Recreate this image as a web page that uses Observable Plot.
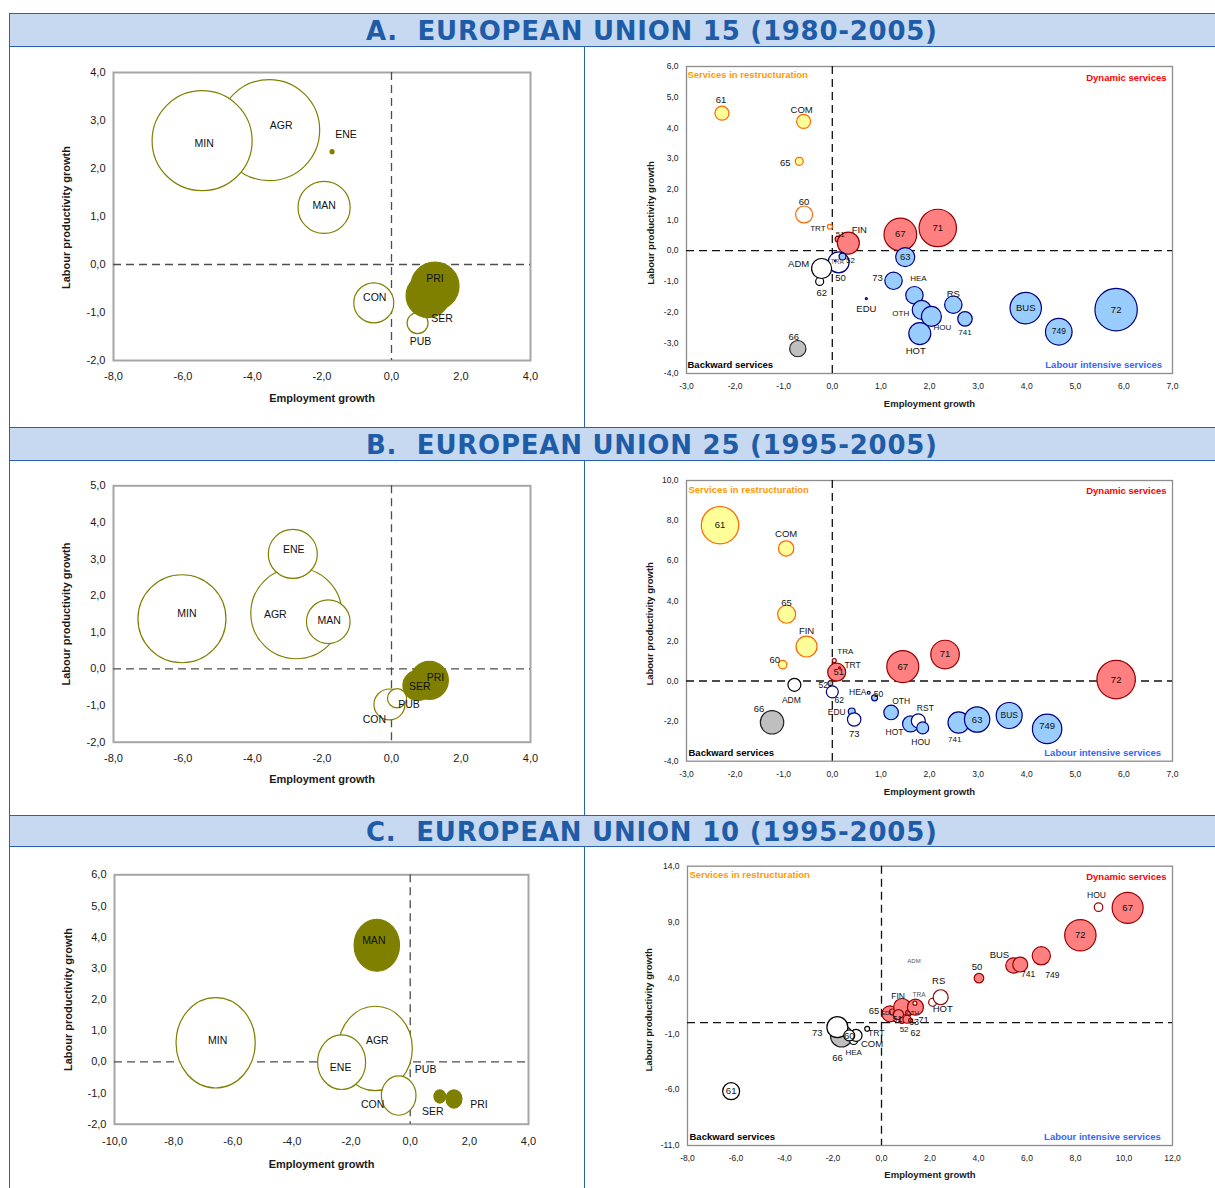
<!DOCTYPE html>
<html><head><meta charset="utf-8">
<script src="https://cdn.jsdelivr.net/npm/d3@7"></script>
<script src="https://cdn.jsdelivr.net/npm/@observablehq/plot@0.6"></script>
<style>
body{margin:0;background:#fff;}
#page{position:relative;width:1215px;height:1188px;overflow:hidden;background:#fff;font-family:"Liberation Sans",Arial,sans-serif;}
.banner{position:absolute;left:9px;width:1206px;background:#C6D9F1;border-top:1.5px solid #2A62AD;border-bottom:1.5px solid #2A62AD;box-sizing:border-box;z-index:2;}
.banner span{position:absolute;left:357px;top:1.5px;white-space:pre;font-family:"DejaVu Sans",sans-serif;font-weight:bold;font-size:26px;color:#1F5CA8;}
.vline{position:absolute;width:0;border-left:1.5px solid #2A62AD;z-index:3;}
.chart{position:absolute;z-index:1;}
.chart svg{overflow:visible;}
</style></head>
<body>
<div id="page">
  <div class="banner" style="top:13px;height:34px"><span style="line-height:31px">A.  EUROPEAN UNION 15 (1980-2005)</span></div>
  <div class="banner" style="top:427px;height:34px"><span style="line-height:31px">B.  EUROPEAN UNION 25 (1995-2005)</span></div>
  <div class="banner" style="top:815px;height:32px"><span style="line-height:29px">C.  EUROPEAN UNION 10 (1995-2005)</span></div>
  <div class="vline" style="left:8.5px;top:13px;height:1175px"></div>
  <div class="vline" style="left:584px;top:46px;height:381px"></div>
  <div class="vline" style="left:584px;top:461px;height:354px"></div>
  <div class="vline" style="left:584px;top:846px;height:342px"></div>
  <div class="chart" id="aLeft" style="left:0;top:46px"></div>
  <div class="chart" id="aRight" style="left:585px;top:46px"></div>
  <div class="chart" id="bLeft" style="left:0;top:461px"></div>
  <div class="chart" id="bRight" style="left:585px;top:461px"></div>
  <div class="chart" id="cLeft" style="left:0;top:846px"></div>
  <div class="chart" id="cRight" style="left:585px;top:846px"></div>
</div>
<script>
// ---------------- DATA ----------------
// A. EU15 (1980-2005) - broad sectors
const aLeftSector = ["AGR","MIN","ENE","MAN","CON","PUB","PRI","SER"];
const aLeftEmp    = [-3.52,-5.45,-1.71,-1.94,-0.51,0.75,1.25,1.05];
const aLeftProd   = [2.80,2.58,2.35,1.19,-0.80,-1.22,-0.45,-0.65];
const aLeftSize   = [255,250,0.4,68,40,11,58,48];
const aLeftKind   = ["open","open","full","open","open","open","full","full"];
const aLeftXTicks = [-8,-6,-4,-2,0,2,4];
const aLeftYTicks = [-2,-1,0,1,2,3,4];

// A. EU15 - services
const aRightSector = ["61","COM","65","60","TRT","51","FIN","71","67","63","50","TRA","52","62","ADM","73","HEA","OTH","HOU","HOT","RS","741","BUS","749","72","EDU","66"];
const aRightEmp    = [-2.27,-0.59,-0.68,-0.58,-0.05,0.12,0.33,2.17,1.40,1.50,0.13,0.06,0.21,-0.26,-0.22,1.26,1.69,1.84,2.04,1.80,2.49,2.73,3.98,4.66,5.84,0.70,-0.71];
const aRightProd   = [4.48,4.21,2.91,1.18,0.78,0.38,0.25,0.74,0.53,-0.21,-0.38,-0.33,-0.19,-1.00,-0.58,-0.98,-1.45,-1.93,-2.14,-2.70,-1.76,-2.22,-1.87,-2.64,-1.92,-1.56,-3.19];
const aRightSize   = [4.9,4.9,1.6,7.2,0.6,0.9,12.1,35,26.6,9,11,0.06,1.2,1.6,10,7.6,7.6,9,10,12.1,7.6,5.3,24.6,17.7,44.9,0.1,6.6];
const aRightKind   = ["res","res","res","resO","resO","dyn","dyn","dyn","dyn","lab","labO","labO","lab","back","back","lab","lab","lab","lab","lab","lab","lab","lab","lab","lab","lab","grey"];
const aRightXTicks = [-3,-2,-1,0,1,2,3,4,5,6,7];
const aRightYTicks = [-4,-3,-2,-1,0,1,2,3,4,5,6];

// B. EU25 (1995-2005) - broad sectors
const bLeftSector = ["MIN","AGR","ENE","MAN","CON","PUB","SER","PRI"];
const bLeftEmp    = [-6.03,-2.74,-2.84,-1.82,-0.06,0.16,0.76,1.09];
const bLeftProd   = [1.37,1.52,3.14,1.29,-0.97,-0.80,-0.45,-0.31];
const bLeftSize   = [193.6,207,60,47.5,24,9.2,22.5,36.1];
const bLeftKind   = ["open","open","open","open","open","open","full","full"];
const bLeftXTicks = [-8,-6,-4,-2,0,2,4];
const bLeftYTicks = [-2,-1,0,1,2,3,4,5];

// B. EU25 - services
const bRightSector = ["61","COM","65","FIN","60","51","TRA","TRT","67","71","72","ADM","52","62","HEA","50","EDU","73","OTH","HOT","RST","HOU","741","63","BUS","749","66"];
const bRightEmp    = [-2.31,-0.95,-0.94,-0.53,-1.02,0.09,0.04,0.15,1.45,2.32,5.84,-0.78,-0.04,0.00,0.75,0.87,0.40,0.45,1.21,1.61,1.77,1.86,2.60,2.98,3.64,4.42,-1.24];
const bRightProd   = [7.77,6.61,3.33,1.72,0.82,0.44,1.02,0.65,0.72,1.32,0.07,-0.19,-0.11,-0.54,-0.59,-0.84,-1.52,-1.92,-1.57,-2.14,-1.99,-2.34,-2.07,-1.92,-1.72,-2.39,-2.06];
const bRightSize   = [35,5.9,8.1,11,1.8,8.1,0.4,0.1,25.6,20.4,36.9,4.2,0.6,3.6,0.2,0.9,1.2,4.5,5.3,6.4,4.9,3.6,11.4,16.1,16.9,21.6,13.7];
const bRightKind   = ["res","res","res","res","res","dyn","dynO","dyn","dyn","dyn","dyn","back","grey","labO","labO","lab","lab","labO","lab","lab","labO","lab","lab","lab","lab","lab","grey"];
const bRightXTicks = [-3,-2,-1,0,1,2,3,4,5,6,7];
const bRightYTicks = [-4,-2,0,2,4,6,8,10];

// C. EU10 (1995-2005) - broad sectors
const cLeftSector = ["MIN","AGR","ENE","CON","MAN","SER","PRI","PUB"];
const cLeftEmp    = [-6.58,-1.18,-2.32,-0.39,-1.13,1.00,1.48,0.52];
const cLeftProd   = [0.61,0.43,-0.01,-1.08,3.74,-1.11,-1.19,-0.26];
const cLeftSize   = [156.8,136.9,57.6,29.9,51.5,3.4,6.4,0];
const cLeftKind   = ["open","open","open","open","full","full","full","open"];
const cLeftXTicks = [-10,-8,-6,-4,-2,0,2,4];
const cLeftYTicks = [-2,-1,0,1,2,3,4,5,6];

// C. EU10 - services
const cRightSector = ["61","66","73","HEA","COM","60","TRT","65","EDU","FIN","51","52","OTH","63","62","71","TRA","HOT","RS","ADM","50","BUS","741","749","72","HOU","67"];
const cRightEmp    = [-6.2,-1.65,-1.82,-1.15,-1.05,-1.33,-0.59,0.35,0.45,0.85,0.70,0.85,1.12,1.05,1.20,1.40,1.38,2.11,2.44,1.34,4.02,5.44,5.72,6.59,8.20,8.95,10.15];
const cRightProd   = [-6.14,-1.2,-0.41,-1.6,-1.15,-1.15,-0.56,0.79,0.95,1.40,0.72,0.20,0.88,0.30,0.20,1.38,1.74,1.82,2.27,5.5,3.98,5.11,5.20,5.98,7.82,10.33,10.27];
const cRightSize   = [7.2,12.1,11,1.6,3.6,3,0.6,6.4,0.9,7.2,2.5,0.9,0.9,1.6,0.4,6.4,0.4,1.6,5.6,0,2.3,5.9,5.6,8.3,24.6,1.8,24];
const cRightKind   = ["back","grey","back","back","back","back","back","dyn","dyn","dyn","dyn","dyn","dyn","dyn","dyn","dyn","dynO","dynO","dynO","dyn","dyn","dyn","dyn","dyn","dyn","dynO","dyn"];
const cRightXTicks = [-8,-6,-4,-2,0,2,4,6,8,10,12];
const cRightYTicks = [-11,-6,-1,4,9,14];

const quadrantNames = ["Services in restructuration","Dynamic services","Backward services","Labour intensive services"];

// ---------------- STYLE / LAYOUT ----------------
const FILL = {open:"#ffffff", full:"#808000", res:"#FFFF99", resO:"#ffffff", dyn:"#FF8080", dynO:"#ffffff", lab:"#99CCFF", labO:"#ffffff", back:"#ffffff", grey:"#BFBFBF"};
const STROKE = {open:"#808000", full:"#808000", res:"#FF6600", resO:"#FF6600", dyn:"#990000", dynO:"#990000", lab:"#000080", labO:"#000080", back:"#000000", grey:"#222222"};
const QCOL = ["#FF9900","#FF0000","#000000","#3366FF"];

const labelLayout = {
  aLeft: {AGR:[12,-4], MIN:[2,3], ENE:[14,-17], MAN:[0,-2], CON:[1,-5], PUB:[3,19], PRI:[0,-7], SER:[14,23]},
  aRight: {"61":[-1,-13], COM:[-2,-11], "65":[-14,2], "60":[0,-13], TRT:[-12,2,8], "51":[2,-5,8], FIN:[11,-13],
    "50":[2,16], TRA:[2,1,6.5,"#555"], "52":[8,4,8], "62":[2,12], ADM:[-23,-5], "73":[-16,-3], HEA:[4,-17,8],
    OTH:[-21,3,8], HOU:[11,11,8], HOT:[-4,17], RS:[0,-11], "741":[0,14,8], "749":[0,0,8.5], EDU:[0,10], "66":[-4,-12]},
  bLeft: {MIN:[5,-5], AGR:[-21,1], ENE:[1,-4], MAN:[1,-1], CON:[-15,15], PUB:[12,6], SER:[2,1], PRI:[6,-3]},
  bRight: {COM:[0,-15], "65":[0,-11], FIN:[0,-16], "60":[-8,-5], "51":[2,0], TRA:[11,-9,8], TRT:[13,-3,8.5], "71":[0,-1],
    ADM:[-3,15,8.5], "52":[-7,2,8.5], "62":[7,8,8.5], HEA:[-11,-1,8.5], "50":[4,-4,8.5], EDU:[-15,1,8.5], "73":[0,14],
    OTH:[10,-11,8.5], HOT:[-16,8,8.5], RST:[7,-13,8.5], HOU:[-2,14,8.5], "741":[-4,17,8], BUS:[0,0,8.5], "749":[0,-3], "66":[-13,-13]},
  cLeft: {MIN:[2,-2], AGR:[2,-8], ENE:[-1,5], CON:[-26,9], MAN:[-3,-5], SER:[-7,15], PRI:[25,6]},
  cRight: {"66":[-4,22], "73":[-20,6], HEA:[0,12,8], COM:[16,8], TRT:[9,4,8.5], "65":[-16,-3], EDU:[-5,1,6], FIN:[-4,-11,8.5],
    "51":[-1,5,9], "52":[2,9,8], OTH:[4,0,6], "63":[7,3,9], "62":[5,13,9], "71":[8,13], TRA:[4,-8,6.5,"#555"], HOT:[10,7],
    RS:[-2,-16], ADM:[0,0,6,"#555"], "50":[-2,-11], BUS:[-14,-11], "741":[8,10,8.5], "749":[11,19,8.5], HOU:[-2,-12,8.5]}
};

const K = 0.5523;
const ellipse = {draw(ctx, size) {
  const rx = Math.sqrt(size / Math.PI), ry = rx * 1.14;
  ctx.moveTo(rx, 0);
  ctx.bezierCurveTo(rx, ry * K, rx * K, ry, 0, ry);
  ctx.bezierCurveTo(-rx * K, ry, -rx, ry * K, -rx, 0);
  ctx.bezierCurveTo(-rx, -ry * K, -rx * K, -ry, 0, -ry);
  ctx.bezierCurveTo(rx * K, -ry, rx, -ry * K, rx, 0);
  ctx.closePath();
}};

const fmt = v => v.toFixed(1).replace(".", ",");

function build(id, cfg) {
  const [names, xs, ys, sizes, kinds] = cfg.series;
  const data = names.map((n, i) => ({name: n, x: xs[i], y: ys[i], size: sizes[i], kind: kinds[i]}));
  const lay = labelLayout[id];
  const dotOpts = {x: "x", y: "y", r: "size", fill: d => FILL[d.kind], stroke: d => STROKE[d.kind], strokeWidth: cfg.dotStroke, sort: null};
  if (cfg.symbol) dotOpts.symbol = cfg.symbol;
  const labels = data.map(d => {
    const o = lay[d.name] || [0, 0];
    return Plot.text([d], {x: "x", y: "y", text: "name", dx: o[0], dy: o[1], fontSize: o[2] || cfg.labelSize, fill: o[3] || "#111"});
  });
  const quads = cfg.quad ? quadrantNames.map((t, i) => {
    const anchors = ["top-left","top-right","bottom-left","bottom-right"];
    const q = cfg.quad[i];
    return Plot.text([t], {text: d => d, frameAnchor: anchors[i], textAnchor: i % 2 ? "end" : "start", lineAnchor: "middle",
      dx: q[0], dy: q[1], fill: QCOL[i], fontWeight: "bold", fontSize: 9.5});
  }) : [];
  const [mt, mr, mb, ml] = cfg.margin;
  const svg = Plot.plot({
    width: cfg.width, height: cfg.height,
    marginTop: mt, marginRight: mr, marginBottom: mb, marginLeft: ml,
    x: {domain: cfg.xDomain}, y: {domain: cfg.yDomain},
    r: {type: "sqrt", domain: [0, 1000], range: [0, 100]},
    color: {type: "identity"},
    style: {fontFamily: '"Liberation Sans", Arial, sans-serif', fontSize: cfg.tickSize + "px", color: "#1a1a1a", background: "transparent"},
    marks: [
      Plot.frame({stroke: cfg.frameStroke, strokeWidth: cfg.frameWidth}),
      Plot.ruleX([0], {stroke: cfg.ruleStroke, strokeWidth: 1.3, strokeDasharray: "8,5"}),
      Plot.ruleY([0], {stroke: cfg.ruleStroke, strokeWidth: 1.3, strokeDasharray: "8,5"}),
      ...quads,
      Plot.dot(data, dotOpts),
      ...labels,
      Plot.axisX({ticks: cfg.xTicks, tickFormat: fmt, tickSize: 0, tickPadding: cfg.xPad, label: null}),
      Plot.axisY({ticks: cfg.yTicks, tickFormat: fmt, tickSize: 0, tickPadding: cfg.yPad, label: null}),
      Plot.text(["Employment growth"], {text: d => d, frameAnchor: "bottom", textAnchor: "middle", lineAnchor: "middle",
        dy: cfg.xLabelDy, fontWeight: "bold", fontSize: cfg.axisFont}),
      Plot.text(["Labour productivity growth"], {text: d => d, frameAnchor: "left", textAnchor: "middle", lineAnchor: "middle",
        dx: cfg.yLabelDx, dy: cfg.yLabelDy || 0, rotate: -90, fontWeight: "bold", fontSize: cfg.axisFont})
    ]
  });
  document.getElementById(id).appendChild(svg);
}

const leftBase = {width: 584, frameStroke: "#A6A6A6", frameWidth: 2, ruleStroke: "#4d4d4d", dotStroke: 1.2, labelSize: 10.5, tickSize: 11, yPad: 8, axisFont: 11};
const rightBase = {width: 630, frameStroke: "#8c8c8c", frameWidth: 1.3, ruleStroke: "#111", dotStroke: 1.2, labelSize: 9.5, tickSize: 8.5, yPad: 8, axisFont: 9.5};

build("aLeft", {...leftBase, height: 381, margin: [26, 54, 67, 113], xDomain: [-8, 4], yDomain: [-2, 4],
  xTicks: aLeftXTicks, yTicks: aLeftYTicks, xPad: 12, xLabelDy: 38, yLabelDx: -47, yLabelDy: 1,
  series: [aLeftSector, aLeftEmp, aLeftProd, aLeftSize, aLeftKind]});
build("aRight", {...rightBase, height: 381, margin: [20, 43, 54, 101], xDomain: [-3, 7], yDomain: [-4, 6],
  xTicks: aRightXTicks, yTicks: aRightYTicks, xPad: 9, xLabelDy: 30, yLabelDx: -36, yLabelDy: 3,
  quad: [[1, 8], [-6, 11.5], [1, -9], [-10.5, -9]],
  series: [aRightSector, aRightEmp, aRightProd, aRightSize, aRightKind]});
build("bLeft", {...leftBase, height: 354, margin: [24.3, 54, 73.3, 113], xDomain: [-8, 4], yDomain: [-2, 5],
  xTicks: bLeftXTicks, yTicks: bLeftYTicks, xPad: 11.5, xLabelDy: 37, yLabelDx: -47,
  series: [bLeftSector, bLeftEmp, bLeftProd, bLeftSize, bLeftKind]});
build("bRight", {...rightBase, height: 354, margin: [19, 43, 54.3, 101], xDomain: [-3, 7], yDomain: [-4, 10],
  xTicks: bRightXTicks, yTicks: bRightYTicks, xPad: 10, xLabelDy: 31, yLabelDx: -37, yLabelDy: 3,
  quad: [[2, 9], [-6, 10], [2, -8], [-11.5, -8]],
  series: [bRightSector, bRightEmp, bRightProd, bRightSize, bRightKind]});
build("cLeft", {...leftBase, height: 342, margin: [28.3, 56, 64.3, 114], xDomain: [-10, 4], yDomain: [-2, 6],
  xTicks: cLeftXTicks, yTicks: cLeftYTicks, xPad: 13, xLabelDy: 40, yLabelDx: -46, symbol: ellipse,
  series: [cLeftSector, cLeftEmp, cLeftProd, cLeftSize, cLeftKind]});
build("cRight", {...rightBase, height: 342, margin: [19.7, 43, 43, 102], xDomain: [-8, 12], yDomain: [-11, 14],
  xTicks: cRightXTicks, yTicks: cRightYTicks, xPad: 9, xLabelDy: 29, yLabelDx: -39, yLabelDy: 4,
  quad: [[2, 8.3], [-6, 10.3], [2, -9], [-11.7, -9]],
  series: [cRightSector, cRightEmp, cRightProd, cRightSize, cRightKind]});

// fit banner titles to the measured span (357px .. 928px)
document.querySelectorAll(".banner span").forEach(s => {
  s.style.letterSpacing = "0px";
  const w = s.getBoundingClientRect().width;
  const n = s.textContent.length;
  s.style.letterSpacing = ((571 - w) / (n - 1)) + "px";
});
</script>
</body></html>
